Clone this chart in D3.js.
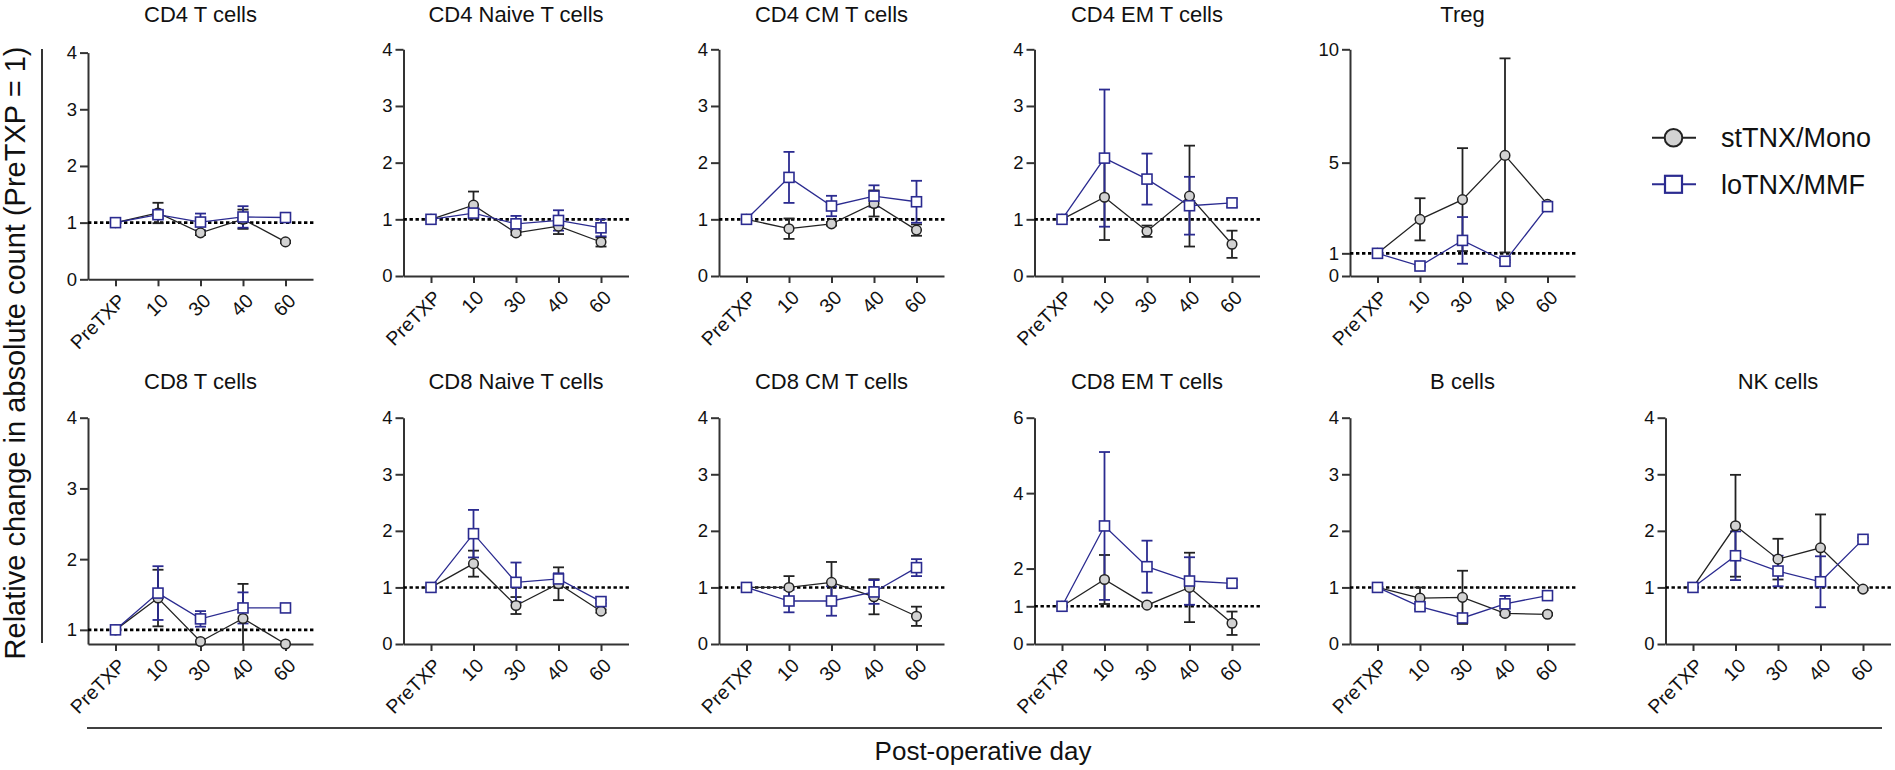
<!DOCTYPE html>
<html><head><meta charset="utf-8">
<script src="https://cdn.jsdelivr.net/npm/d3@7"></script>
<style>
body{margin:0;background:#fff}
text{font-family:"Liberation Sans",Arial,Helvetica,sans-serif;fill:#111}
</style>
</head><body>
<svg id="c" width="1895" height="770"></svg>
<script>
// ---------------- DATA ----------------
const categories = ["PreTXP", "10", "30", "40", "60"];
const seriesNames = ["stTNX/Mono", "loTNX/MMF"];
const panelTitles = ["CD4 T cells", "CD4 Naive T cells", "CD4 CM T cells", "CD4 EM T cells", "Treg",
  "CD8 T cells", "CD8 Naive T cells", "CD8 CM T cells", "CD8 EM T cells", "B cells", "NK cells"];
const yDomains = [[0,4],[0,4],[0,4],[0,4],[0,10],[0.8,4],[0,4],[0,4],[0,6],[0,4],[0,4]];
const yTicks = [[0,1,2,3,4],[0,1,2,3,4],[0,1,2,3,4],[0,1,2,3,4],[0,1,5,10],
  [1,2,3,4],[0,1,2,3,4],[0,1,2,3,4],[0,1,2,4,6],[0,1,2,3,4],[0,1,2,3,4]];
const monoMean = [
  [1, 1.17, 0.82, 1.06, 0.66],
  [1, 1.25, 0.76, 0.88, 0.60],
  [1, 0.835, 0.92, 1.28, 0.81],
  [1, 1.39, 0.79, 1.41, 0.56],
  [1, 2.50, 3.37, 5.32, 3.16],
  [1, 1.45, 0.835, 1.16, 0.80],
  [1, 1.42, 0.68, 1.065, 0.58],
  [1, 1.00, 1.09, 0.835, 0.49],
  [1, 1.71, 1.03, 1.50, 0.55],
  [1, 0.81, 0.825, 0.54, 0.525],
  [1, 2.09, 1.50, 1.70, 0.97]
];
const monoErr = [
  [0, 0.18, 0.04, 0.17, 0.02],
  [0, 0.24, 0.04, 0.14, 0.08],
  [0, 0.18, 0.03, 0.23, 0.10],
  [0, 0.755, 0.10, 0.89, 0.24],
  [0, 0.93, 2.27, 4.28, 0.05],
  [0, 0.40, 0, 0.49, 0],
  [0, 0.23, 0.15, 0.29, 0.03],
  [0, 0.20, 0.36, 0.31, 0.17],
  [0, 0.65, 0.03, 0.92, 0.31],
  [0, 0.19, 0.47, 0.03, 0.02],
  [0, 0.90, 0.36, 0.59, 0.02]
];
const mmfMean = [
  [1, 1.14, 1.01, 1.10, 1.09],
  [1, 1.11, 0.92, 0.98, 0.85],
  [1, 1.74, 1.235, 1.41, 1.31],
  [1, 2.08, 1.71, 1.24, 1.29],
  [1, 0.44, 1.57, 0.65, 3.06],
  [1, 1.52, 1.155, 1.31, 1.31],
  [1, 1.95, 1.09, 1.15, 0.75],
  [1, 0.76, 0.76, 0.92, 1.35],
  [1, 3.13, 2.05, 1.67, 1.61],
  [1, 0.66, 0.46, 0.71, 0.855],
  [1, 1.56, 1.29, 1.10, 1.85]
];
const mmfErr = [
  [0, 0.06, 0.15, 0.19, 0.03],
  [0, 0.05, 0.14, 0.18, 0.15],
  [0, 0.45, 0.18, 0.19, 0.37],
  [0, 1.21, 0.45, 0.51, 0.07],
  [0, 0.03, 1.03, 0.05, 0.05],
  [0, 0.38, 0.11, 0.22, 0],
  [0, 0.42, 0.35, 0.10, 0.03],
  [0, 0.20, 0.26, 0.21, 0.15],
  [0, 1.96, 0.69, 0.63, 0.09],
  [0, 0.05, 0.05, 0.14, 0.03],
  [0, 0.43, 0.27, 0.45, 0.03]
];
const xAxisTitle = "Post-operative day";
const yAxisTitle = "Relative change in absolute count (PreTXP = 1)";

// ---------------- LAYOUT ----------------
const svg = d3.select("#c");
svg.append("rect").attr("width",1895).attr("height",770).attr("fill","#fff");
const BLUE = "#2b2b90", DARK = "#222", GREY = "#d2d2d2", AX = "#333";
const colX0 = 88, colStep = 315.5, plotW = 225;
const rows = [{top:49.3, bottom:276, titleY:21.5}, {top:417.7, bottom:644, titleY:389}];
const panelPos = [[0,0,3.3],[0,1,0],[0,2,0],[0,3,0],[0,4,0],[1,0,0],[1,1,0],[1,2,0],[1,3,0],[1,4,0],[1,5,0]];

panelTitles.forEach((title, i) => {
  const [r, c, dy] = panelPos[i];
  const x0 = colX0 + c*colStep;
  const top = rows[r].top + dy, bottom = rows[r].bottom + dy;
  const g = svg.append("g");
  const x = d3.scalePoint().domain(categories).range([x0, x0 + plotW]).padding(0.647);
  const y = d3.scaleLinear().domain(yDomains[i]).range([bottom, top]);

  g.append("text").attr("x", x0 + plotW/2).attr("y", rows[r].titleY)
    .attr("text-anchor","middle").attr("font-size",22).text(title);

  // axes
  const xa = g.append("g").attr("transform",`translate(0,${bottom})`)
    .call(d3.axisBottom(x).tickSize(7).tickSizeOuter(0));
  xa.selectAll("text").attr("x",0).attr("y",0).attr("dy","0.35em")
    .attr("transform","translate(6,18) rotate(-45)").attr("text-anchor","end")
    .attr("font-size",19.5).attr("fill","#111");
  const ya = g.append("g").attr("transform",`translate(${x0},0)`)
    .call(d3.axisLeft(y).tickValues(yTicks[i]).tickFormat(d3.format("d")).tickSize(8).tickSizeOuter(0));
  ya.selectAll("text").attr("x",-11).attr("font-size",18.5).attr("fill","#111");
  [xa, ya].forEach(a => {
    a.select(".domain").attr("stroke",AX).attr("stroke-width",2);
    a.selectAll(".tick line").attr("stroke",AX).attr("stroke-width",2);
  });

  // reference line at 1
  g.append("line").attr("x1",x0).attr("x2",x0+plotW+2).attr("y1",y(1)).attr("y2",y(1))
    .attr("stroke","#000").attr("stroke-width",2.6).attr("stroke-dasharray","3.4,2.6");

  const [d0, d1] = yDomains[i];
  const clamp = v => Math.max(d0, Math.min(d1, v));
  const series = [
    {mean: monoMean[i], err: monoErr[i], color: DARK},
    {mean: mmfMean[i], err: mmfErr[i], color: BLUE}
  ];
  // error bars
  series.forEach(s => {
    s.mean.forEach((m, j) => {
      const e = s.err[j]; if (!e) return;
      const cx = x(categories[j]);
      const lo = m - e, hi = m + e;
      g.append("line").attr("x1",cx).attr("x2",cx).attr("y1",y(clamp(lo))).attr("y2",y(clamp(hi)))
        .attr("stroke",s.color).attr("stroke-width",1.8);
      [lo, hi].forEach(v => {
        if (v < d0 || v > d1) return;
        g.append("line").attr("x1",cx-5.5).attr("x2",cx+5.5).attr("y1",y(v)).attr("y2",y(v))
          .attr("stroke",s.color).attr("stroke-width",1.8);
      });
    });
  });
  // lines
  const line = d3.line().x((d,j) => x(categories[j])).y(d => y(d));
  series.forEach(s => {
    g.append("path").datum(s.mean).attr("d", line).attr("fill","none")
      .attr("stroke", s.color).attr("stroke-width",1.3);
  });
  // markers
  g.selectAll(null).data(monoMean[i]).enter().append("circle")
    .attr("cx",(d,j)=>x(categories[j])).attr("cy",d=>y(d)).attr("r",4.8)
    .attr("fill",GREY).attr("stroke",DARK).attr("stroke-width",1.5);
  g.selectAll(null).data(mmfMean[i]).enter().append("rect")
    .attr("x",(d,j)=>x(categories[j])-5).attr("y",d=>y(d)-5).attr("width",10).attr("height",10)
    .attr("fill","#fff").attr("stroke",BLUE).attr("stroke-width",1.6);
});

// global axis titles and frame lines
svg.append("line").attr("x1",42).attr("x2",42).attr("y1",49).attr("y2",643)
  .attr("stroke","#000").attr("stroke-width",1.6);
svg.append("text").attr("transform","translate(25,353) rotate(-90)")
  .attr("text-anchor","middle").attr("font-size",29).text(yAxisTitle);
svg.append("line").attr("x1",87).attr("x2",1882).attr("y1",728).attr("y2",728)
  .attr("stroke","#000").attr("stroke-width",1.6);
svg.append("text").attr("x",983).attr("y",760).attr("text-anchor","middle")
  .attr("font-size",26).text(xAxisTitle);

// legend
const lg = svg.append("g");
const legY = [137.7, 184.3];
[DARK, BLUE].forEach((col, k) => {
  lg.append("line").attr("x1",1652).attr("x2",1696).attr("y1",legY[k]).attr("y2",legY[k])
    .attr("stroke",col).attr("stroke-width",2);
  if (k === 0) {
    lg.append("circle").attr("cx",1673.5).attr("cy",legY[k]).attr("r",8.8)
      .attr("fill",GREY).attr("stroke",DARK).attr("stroke-width",2);
  } else {
    lg.append("rect").attr("x",1673.5-8.5).attr("y",legY[k]-8.5).attr("width",17).attr("height",17)
      .attr("fill","#fff").attr("stroke",col).attr("stroke-width",2.2);
  }
  lg.append("text").attr("x",1721).attr("y",legY[k]).attr("dy","0.36em")
    .attr("font-size",27).text(seriesNames[k]);
});
</script>
</body></html>
